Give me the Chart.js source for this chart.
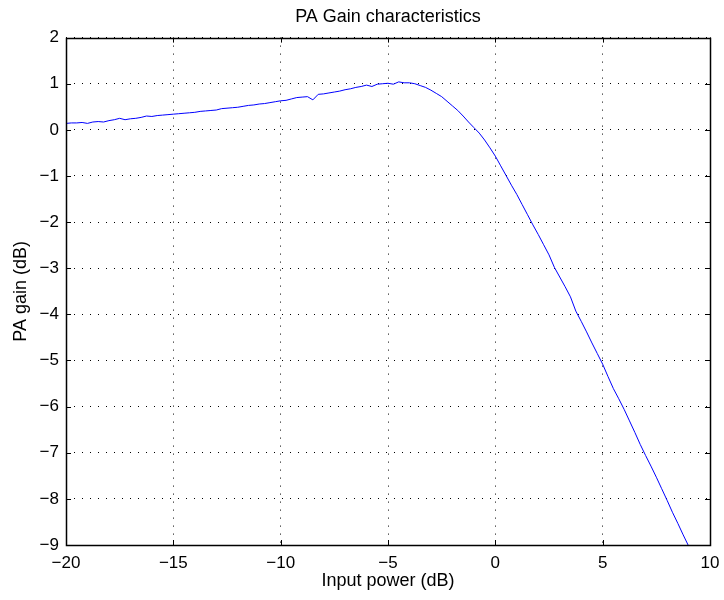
<!DOCTYPE html>
<html>
<head>
<meta charset="utf-8">
<title>PA Gain characteristics</title>
<script src="https://cdn.jsdelivr.net/npm/chart.js@4"></script>
<style>
  body { margin: 0; background: #fff; }
  #wrap { width: 724px; height: 600px; }
</style>
</head>
<body>
<div id="wrap"><canvas id="gainChart" width="724" height="600"></canvas></div>
<script>
// input power (dB)
const inputPower = [
  -20, -19.75, -19.5, -19.25, -19, -18.75, -18.5, -18.25, -18, -17.75,
  -17.5, -17.25, -17, -16.75, -16.5, -16.25, -16, -15.75, -15.5, -15.25,
  -15, -14.75, -14.5, -14.25, -14, -13.75, -13.5, -13.25, -13, -12.75,
  -12.5, -12.25, -12, -11.75, -11.5, -11.25, -11, -10.75, -10.5, -10.25,
  -10, -9.75, -9.5, -9.25, -9, -8.75, -8.5, -8.25, -8, -7.75,
  -7.5, -7.25, -7, -6.75, -6.5, -6.25, -6, -5.75, -5.5, -5.25,
  -5, -4.75, -4.5, -4.25, -4, -3.75, -3.5, -3.25, -3, -2.75,
  -2.5, -2.25, -2, -1.75, -1.5, -1.25, -1, -0.75, -0.5, -0.25,
  0, 0.25, 0.5, 0.75, 1, 1.25, 1.5, 1.75, 2, 2.25,
  2.5, 2.75, 3, 3.25, 3.5, 3.75, 4, 4.25, 4.5, 4.75,
  5, 5.25, 5.5, 5.75, 6, 6.25, 6.5, 6.75, 7, 7.25,
  7.5, 7.75, 8, 8.25, 8.5, 8.75, 8.98
];
// PA gain (dB)
const paGain = [
  0.14, 0.15, 0.15, 0.16, 0.14, 0.17, 0.18, 0.17, 0.20, 0.22,
  0.25, 0.22, 0.24, 0.25, 0.27, 0.30, 0.29, 0.31, 0.32, 0.33,
  0.34, 0.35, 0.36, 0.37, 0.38, 0.40, 0.41, 0.42, 0.43, 0.46,
  0.47, 0.48, 0.49, 0.51, 0.53, 0.54, 0.56, 0.57, 0.59, 0.61,
  0.63, 0.64, 0.67, 0.70, 0.71, 0.72, 0.65, 0.77, 0.78, 0.80,
  0.82, 0.84, 0.87, 0.89, 0.92, 0.94, 0.97, 0.94, 0.99, 1.00,
  1.01, 0.99, 1.04, 1.02, 1.02, 1.00, 0.96, 0.92, 0.86, 0.79,
  0.72, 0.62, 0.52, 0.42, 0.30, 0.17, 0.05, -0.07, -0.22, -0.39,
  -0.57, -0.78, -0.99, -1.20, -1.40, -1.62, -1.84, -2.06, -2.27, -2.49,
  -2.71, -2.98, -3.19, -3.40, -3.62, -3.93, -4.15, -4.38, -4.62, -4.85,
  -5.08, -5.35, -5.61, -5.83, -6.06, -6.31, -6.56, -6.82, -7.06, -7.29,
  -7.53, -7.78, -8.03, -8.29, -8.53, -8.78, -9.00
];
const xTicks = [-20, -15, -10, -5, 0, 5, 10];
const yTicks = [2, 1, 0, -1, -2, -3, -4, -5, -6, -7, -8, -9];

const FAMILY = 'Liberation Sans, Arial, Helvetica, sans-serif';
const TICK_FONT = { family: FAMILY, size: 17 };
const LABEL_FONT = { family: FAMILY, size: 18 };
const minus = v => String(v).replace('-', '\u2212');

// matlab style box with inward ticks
const boxPlugin = {
  id: 'boxTicks',
  afterDraw(chart) {
    const { ctx, chartArea: a, scales } = chart;
    const len = 5;
    ctx.save();
    ctx.strokeStyle = '#000';
    ctx.lineWidth = 1;
    ctx.beginPath();
    xTicks.forEach(v => {
      const x = Math.round(scales.x.getPixelForValue(v)) + 0.5;
      ctx.moveTo(x, a.bottom); ctx.lineTo(x, a.bottom - len);
      ctx.moveTo(x, a.top); ctx.lineTo(x, a.top + len);
    });
    yTicks.forEach(v => {
      const y = Math.round(scales.y.getPixelForValue(v)) + 0.5;
      ctx.moveTo(a.left, y); ctx.lineTo(a.left + len, y);
      ctx.moveTo(a.right, y); ctx.lineTo(a.right - len, y);
    });
    ctx.stroke();
    ctx.lineWidth = 1.5;
    ctx.strokeRect(Math.round(a.left) + 0.5, Math.round(a.top) + 0.5,
      Math.round(a.right - a.left), Math.round(a.bottom - a.top));
    ctx.restore();
  }
};

const ctx = document.getElementById('gainChart').getContext('2d');
new Chart(ctx, {
  type: 'line',
  data: {
    datasets: [{
      data: inputPower.map((x, i) => ({ x, y: paGain[i] })),
      borderColor: '#0000ff',
      borderWidth: 1,
      pointRadius: 0,
      tension: 0,
      fill: false
    }]
  },
  options: {
    responsive: false,
    animation: false,
    layout: { padding: { left: 0, right: 14, top: 0, bottom: 0 } },
    plugins: {
      legend: { display: false },
      tooltip: { enabled: false },
      title: {
        display: true,
        fullSize: false,
        text: 'PA Gain characteristics',
        color: '#000',
        font: { ...LABEL_FONT, weight: 'normal' },
        padding: { top: 6, bottom: 10 }
      }
    },
    scales: {
      x: {
        type: 'linear',
        min: -20,
        max: 10,
        afterBuildTicks: s => { s.ticks = xTicks.map(value => ({ value })); },
        afterFit: s => { s.height = 55; s.paddingLeft = 0; s.paddingRight = 0; },
        ticks: { color: '#000', font: TICK_FONT, padding: 8, maxRotation: 0, callback: minus },
        grid: { color: '#000', lineWidth: 1, drawTicks: false },
        border: { display: false, dash: [1, 7] },
        title: { display: true, text: 'Input power (dB)', color: '#000', font: LABEL_FONT, padding: { top: 0, bottom: 8 } }
      },
      y: {
        type: 'linear',
        min: -9,
        max: 2,
        afterBuildTicks: s => { s.ticks = yTicks.map(value => ({ value })); },
        afterFit: s => { s.width = 66; },
        ticks: { color: '#000', font: TICK_FONT, padding: 7, callback: minus },
        grid: { color: '#000', lineWidth: 1, drawTicks: false },
        border: { display: false, dash: [1, 7] },
        title: { display: true, text: 'PA gain (dB)', color: '#000', font: LABEL_FONT, padding: { top: 10, bottom: 0 } }
      }
    }
  },
  plugins: [boxPlugin]
});
</script>
</body>
</html>
